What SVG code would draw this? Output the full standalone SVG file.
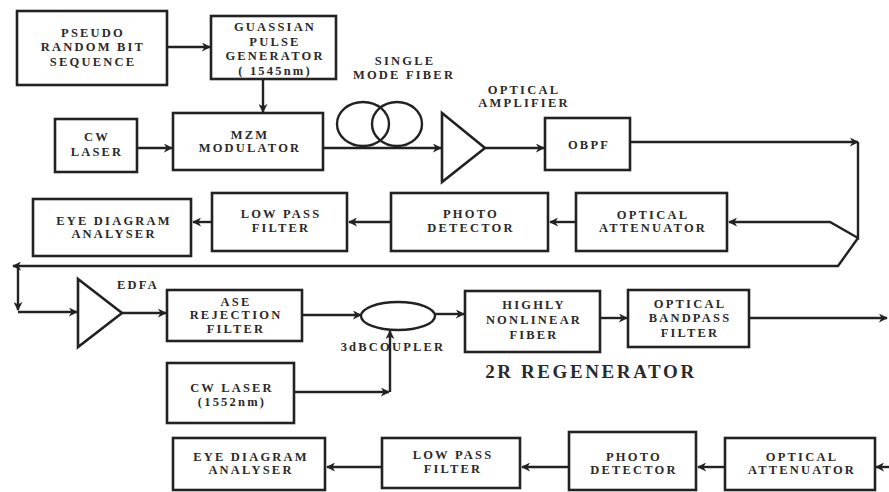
<svg xmlns="http://www.w3.org/2000/svg" width="889" height="492" viewBox="0 0 889 492">
<style>
.box{fill:#fff;stroke:#222;stroke-width:2.6}
.ln{fill:none;stroke:#222;stroke-width:2.4}
.t{font-family:"Liberation Serif","Times New Roman",serif;font-weight:bold;font-size:12.5px;letter-spacing:2.2px;fill:#2a2a2a;text-anchor:middle}
.big{font-size:19px;letter-spacing:2.6px}
</style>
<defs>
<marker id="a" viewBox="0 0 10 10" refX="9" refY="5" markerWidth="9" markerHeight="9" markerUnits="userSpaceOnUse" orient="auto">
<path d="M0,0 L10,5 L0,10 L3,5 z" fill="#222"/>
</marker>
</defs>
<rect width="889" height="492" fill="#fff"/>

<g id="connectors">
<line class="ln" x1="167" y1="47" x2="210" y2="47" marker-end="url(#a)"/>
<line class="ln" x1="263" y1="79" x2="263" y2="112" marker-end="url(#a)"/>
<line class="ln" x1="137" y1="148" x2="172" y2="148" marker-end="url(#a)"/>
<line class="ln" x1="323" y1="148" x2="441" y2="148" marker-end="url(#a)"/>
<line class="ln" x1="485" y1="148" x2="544" y2="148" marker-end="url(#a)"/>
<line class="ln" x1="630" y1="142" x2="858" y2="142" marker-end="url(#a)"/>
<polyline class="ln" points="858,142 858,238 830,222 729,222" marker-end="url(#a)"/>
<polyline class="ln" points="858,238 838,266 13,266" marker-end="url(#a)"/>
<line class="ln" x1="18" y1="266" x2="18" y2="310" marker-end="url(#a)"/>
<line class="ln" x1="18" y1="312" x2="77" y2="312" marker-end="url(#a)"/>
<line class="ln" x1="576" y1="222" x2="550" y2="222" marker-end="url(#a)"/>
<line class="ln" x1="391" y1="222" x2="349" y2="222" marker-end="url(#a)"/>
<line class="ln" x1="212" y1="222" x2="193" y2="222" marker-end="url(#a)"/>
<line class="ln" x1="122" y1="313" x2="166" y2="313" marker-end="url(#a)"/>
<line class="ln" x1="302" y1="315" x2="361" y2="315" marker-end="url(#a)"/>
<line class="ln" x1="435" y1="314" x2="464" y2="314" marker-end="url(#a)"/>
<line class="ln" x1="294" y1="392" x2="389" y2="392" marker-end="url(#a)"/>
<line class="ln" x1="390" y1="392" x2="390" y2="331" marker-end="url(#a)"/>
<line class="ln" x1="600" y1="318" x2="627" y2="318" marker-end="url(#a)"/>
<line class="ln" x1="749" y1="318" x2="887" y2="318" marker-end="url(#a)"/>
<line class="ln" x1="889" y1="467" x2="876" y2="467" marker-end="url(#a)"/>
<line class="ln" x1="725" y1="467" x2="698" y2="467" marker-end="url(#a)"/>
<line class="ln" x1="569" y1="467" x2="522" y2="467" marker-end="url(#a)"/>
<line class="ln" x1="382" y1="467" x2="327" y2="467" marker-end="url(#a)"/>
</g>

<g id="prbs"><rect class="box" x="17" y="11" width="150" height="74"/>
<text class="t" x="93" y="37">PSEUDO</text><text class="t" x="93" y="51">RANDOM BIT</text><text class="t" x="93" y="66">SEQUENCE</text></g>
<g id="gpg"><rect class="box" x="211" y="16" width="125" height="63"/>
<text class="t" x="275" y="31">GUASSIAN</text><text class="t" x="275" y="45.5">PULSE</text><text class="t" x="275" y="60">GENERATOR</text><text class="t" x="275" y="74.5">( 1545nm)</text></g>
<g id="cwlaser1"><rect class="box" x="55" y="119" width="82" height="53"/>
<text class="t" x="97" y="141">CW</text><text class="t" x="97" y="156">LASER</text></g>
<g id="mzm"><rect class="box" x="173" y="113" width="150" height="57"/>
<text class="t" x="250" y="139">MZM</text><text class="t" x="250" y="152">MODULATOR</text></g>
<g id="smf"><ellipse class="ln" cx="363" cy="124" rx="26" ry="22"/><ellipse class="ln" cx="397" cy="124" rx="25" ry="22"/>
<text class="t" x="405" y="65">SINGLE</text><text class="t" x="404" y="79">MODE FIBER</text></g>
<g id="amp"><polygon class="box" points="442,113 485,148 442,182"/>
<text class="t" x="524" y="94">OPTICAL</text><text class="t" x="524" y="107">AMPLIFIER</text></g>
<g id="obpf"><rect class="box" x="545" y="118" width="85" height="52"/>
<text class="t" x="589" y="149">OBPF</text></g>
<g id="att1"><rect class="box" x="576" y="193" width="151" height="58"/>
<text class="t" x="653" y="219">OPTICAL</text><text class="t" x="653" y="232">ATTENUATOR</text></g>
<g id="pd1"><rect class="box" x="391" y="193" width="157" height="58"/>
<text class="t" x="471" y="218">PHOTO</text><text class="t" x="471" y="232">DETECTOR</text></g>
<g id="lpf1"><rect class="box" x="212" y="193" width="135" height="58"/>
<text class="t" x="281" y="218">LOW PASS</text><text class="t" x="281" y="232">FILTER</text></g>
<g id="eye1"><rect class="box" x="33" y="199" width="158" height="57"/>
<text class="t" x="114" y="225">EYE DIAGRAM</text><text class="t" x="114" y="238">ANALYSER</text></g>
<g id="edfa"><polygon class="box" points="78,279 122,313 78,347"/>
<text class="t" x="138" y="289">EDFA</text></g>
<g id="ase"><rect class="box" x="167" y="290" width="135" height="51"/>
<text class="t" x="236" y="306">ASE</text><text class="t" x="236" y="319">REJECTION</text><text class="t" x="236" y="333">FILTER</text></g>
<g id="coupler"><ellipse class="ln" cx="398" cy="316" rx="37" ry="14"/>
<text class="t" x="393" y="351">3dBCOUPLER</text></g>
<g id="hnlf"><rect class="box" x="465" y="291" width="135" height="61"/>
<text class="t" x="534" y="309">HIGHLY</text><text class="t" x="534" y="324">NONLINEAR</text><text class="t" x="534" y="339">FIBER</text></g>
<g id="obf"><rect class="box" x="628" y="290" width="121" height="57"/>
<text class="t" x="690" y="308">OPTICAL</text><text class="t" x="690" y="322">BANDPASS</text><text class="t" x="690" y="337">FILTER</text></g>
<text class="t big" x="591" y="378">2R REGENERATOR</text>
<g id="cwlaser2"><rect class="box" x="167" y="363" width="127" height="60"/>
<text class="t" x="232" y="392">CW LASER</text><text class="t" x="232" y="406">(1552nm)</text></g>
<g id="eye2"><rect class="box" x="173" y="438" width="152" height="52"/>
<text class="t" x="251" y="461">EYE DIAGRAM</text><text class="t" x="251" y="474">ANALYSER</text></g>
<g id="lpf2"><rect class="box" x="382" y="438" width="138" height="50"/>
<text class="t" x="453" y="459">LOW PASS</text><text class="t" x="453" y="473">FILTER</text></g>
<g id="pd2"><rect class="box" x="569" y="432" width="127" height="58"/>
<text class="t" x="634" y="461">PHOTO</text><text class="t" x="634" y="474">DETECTOR</text></g>
<g id="att2"><rect class="box" x="725" y="438" width="150" height="52"/>
<text class="t" x="802" y="461">OPTICAL</text><text class="t" x="802" y="474">ATTENUATOR</text></g>
</svg>
